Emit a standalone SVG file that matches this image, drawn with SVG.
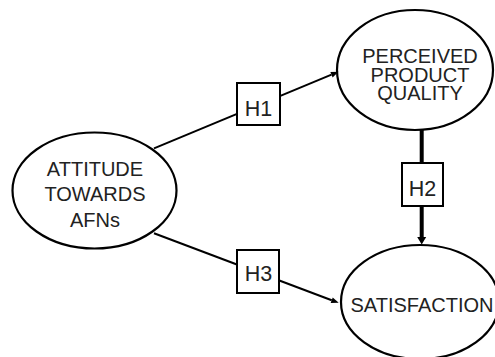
<svg xmlns="http://www.w3.org/2000/svg" width="495" height="357" viewBox="0 0 495 357">
<style>
.ell{fill:#fff;stroke:#000;stroke-width:2.2}
.box{fill:#fff;stroke:#000;stroke-width:2}
.t{font-family:"Liberation Sans",Arial,sans-serif;font-size:20px;fill:#222;text-anchor:middle}
.h{font-family:"Liberation Sans",Arial,sans-serif;font-size:21.5px;fill:#222;text-anchor:middle}
.c{fill:none;stroke:#000;stroke-width:2}
.ck{fill:none;stroke:#000;stroke-width:4}
</style>
<defs>
<marker id="a" markerUnits="userSpaceOnUse" markerWidth="8" markerHeight="7" refX="0" refY="3" orient="auto" overflow="visible"><path d="M0,0 L7.5,3 L0,6 z" fill="#000"/></marker>
<marker id="ak" markerUnits="userSpaceOnUse" markerWidth="8" markerHeight="10" refX="0" refY="4.5" orient="auto" overflow="visible"><path d="M0,0 L7.5,4.5 L0,9 z" fill="#000"/></marker>
</defs>
<g id="attitude">
<ellipse class="ell" cx="94.5" cy="190.5" rx="82" ry="58"/>
<text class="t" x="95" y="176">ATTITUDE</text>
<text class="t" x="95" y="201">TOWARDS</text>
<text class="t" x="95" y="226.5">AFNs</text>
</g>
<g id="quality">
<ellipse class="ell" cx="415" cy="70" rx="78" ry="60"/>
<text class="t" x="420" y="63">PERCEIVED</text>
<text class="t" x="420" y="81.5">PRODUCT</text>
<text class="t" x="420" y="100">QUALITY</text>
</g>
<g id="satisfaction">
<ellipse class="ell" cx="420" cy="302" rx="79" ry="57"/>
<text class="t" x="422" y="311.5">SATISFACTION</text>
</g>
<g id="connectors">
<path class="c" d="M154,148.3 L331.5,74.7" marker-end="url(#a)"/>
<path class="c" d="M154,233.3 L331.7,300.2" marker-end="url(#a)"/>
<path class="ck" d="M421.7,130 L421.7,237" marker-end="url(#ak)"/>
</g>
<g id="h1">
<rect class="box" x="237" y="83" width="43" height="42"/>
<text class="h" x="258.5" y="115.5">H1</text>
</g>
<g id="h2">
<rect class="box" x="402" y="163" width="41" height="43"/>
<text class="h" x="422.5" y="196">H2</text>
</g>
<g id="h3">
<rect class="box" x="237" y="250" width="42" height="43"/>
<text class="h" x="258.5" y="281">H3</text>
</g>
</svg>
